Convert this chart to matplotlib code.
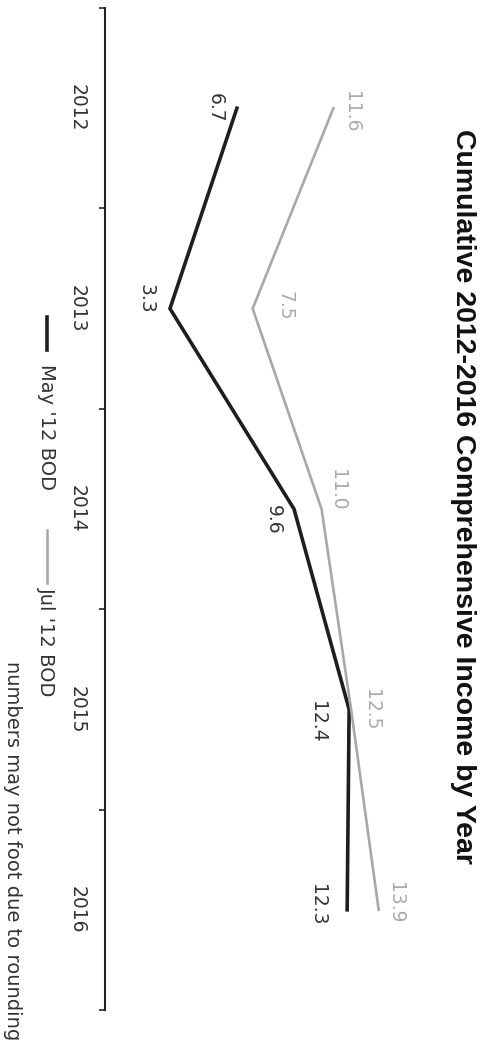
import matplotlib
matplotlib.use('Agg')
import matplotlib.pyplot as plt
from matplotlib.lines import Line2D

plt.rcParams['font.family'] = ['DejaVu Sans']

# data
years = ['2012', '2013', '2014', '2015', '2016']
may_bod = [6.7, 3.3, 9.6, 12.4, 12.3]
jul_bod = [11.6, 7.5, 11.0, 12.5, 13.9]
series_names = ["May '12 BOD", "Jul '12 BOD"]

# label offsets in pixels (x, y) -- chart is drawn turned on its side
may_off = [(-22, 0), (-24, 10), (-21, -11), (-32, -12), (-30, 5)]
jul_off = [(18, -4), (32, 3), (16, 19), (20, 0), (17, 7)]

W, H = 483, 1045
fig = plt.figure(figsize=(W / 100, H / 100), dpi=100)

def fx(x):
    return x / W

def fy(y):
    return 1 - y / H

ax = fig.add_axes([fx(105), fy(1010), fx(315), (1010 - 8) / H])
pos = list(range(len(years)))

ax.plot(may_bod, pos, color='#1e1e1e', lw=2.6, solid_joinstyle='miter')
ax.plot(jul_bod, pos, color='#a8a8a8', lw=1.9)

for v, p, off in zip(may_bod, pos, may_off):
    ax.annotate(f'{v:.1f}', (v, p), xytext=off, textcoords='offset pixels',
                rotation=-90, ha='center', va='center', fontsize=13.5, color='#333333')
for v, p, off in zip(jul_bod, pos, jul_off):
    ax.annotate(f'{v:.1f}', (v, p), xytext=off, textcoords='offset pixels',
                rotation=-90, ha='center', va='center', fontsize=13.5, color='#aaaaaa')

ax.set_xlim(0, 16)
ax.set_ylim(len(years) - 0.5, -0.5)

for s in ['top', 'right', 'bottom']:
    ax.spines[s].set_visible(False)
ax.spines['left'].set_linewidth(1.5)
ax.spines['left'].set_color('#222222')
ax.set_xticks([])

ax.set_yticks([p - 0.5 for p in pos] + [len(years) - 0.5])
ax.set_yticklabels([])
ax.tick_params(axis='y', which='major', length=4, width=1.2, color='#222222')
ax.set_yticks(pos, minor=True)
ax.set_yticklabels(years, minor=True, rotation=-90, fontsize=13.5, color='#333333',
                   va='center', ha='center')
ax.tick_params(axis='y', which='minor', length=0, pad=20)

# title
fig.text(fx(463), fy(496), 'Cumulative 2012-2016 Comprehensive Income by Year',
         rotation=-90, ha='center', va='center', fontsize=20.5, fontweight='bold',
         color='#111111', family=['Liberation Sans', 'DejaVu Sans'])

# legend, drawn by hand because it runs down the page
fig.add_artist(Line2D([fx(47), fx(47)], [fy(317), fy(350)], color='#1e1e1e', lw=2.6,
                      transform=fig.transFigure))
fig.text(fx(46), fy(364), series_names[0], rotation=-90, ha='center', va='top',
         fontsize=14, color='#333333')
fig.add_artist(Line2D([fx(47), fx(47)], [fy(530), fy(583)], color='#a8a8a8', lw=1.9,
                      transform=fig.transFigure))
fig.text(fx(46), fy(587), series_names[1], rotation=-90, ha='center', va='top',
         fontsize=14, color='#333333')

fig.text(fx(12), fy(1040), 'numbers may not foot due to rounding', rotation=-90,
         ha='center', va='bottom', fontsize=14, color='#333333')

fig.savefig('out.png', dpi=100, facecolor='white')
